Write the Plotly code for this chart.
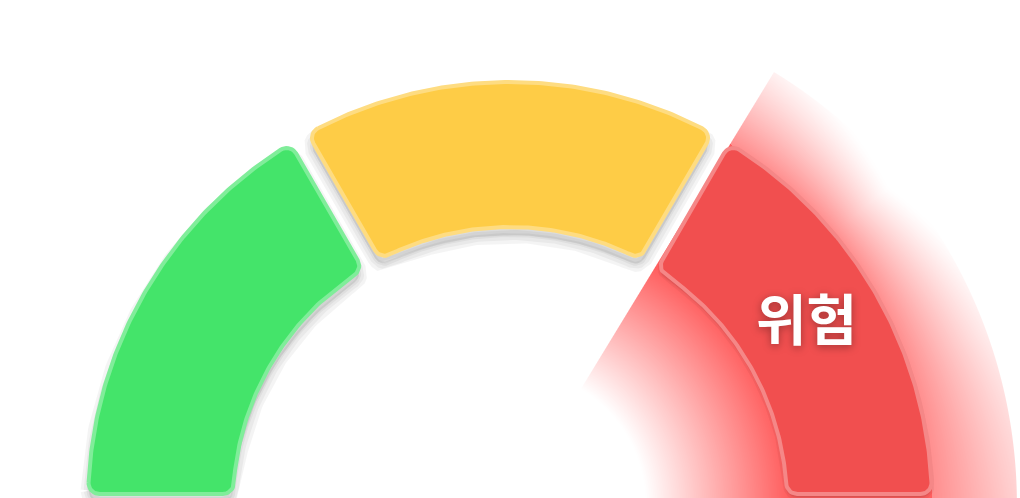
import numpy as np
import plotly.graph_objects as go

# ---------------- data ----------------
segment_labels = ["안전", "주의", "위험"]
segment_values = [1, 1, 1]
segment_colors = ["#44E46A", "#FECC46", "#F14F4F"]
highlight_label = "위험"

# ---------------- geometry (pixels) ----------------
W, H = 1020, 498
CX, CY = 510.0, 0.0          # gauge centre in data coords (y up)
Y_TOP = 504.0                # data y of the top pixel row
R_OUT, R_IN = 422.0, 277.0
GAP = 10.0                   # half gap between segments (px)
RC = 11.0                    # corner radius


def fillet(c, p_from, p_to, rc, n=10):
    a1 = np.arctan2(p_from[1] - c[1], p_from[0] - c[0])
    a2 = np.arctan2(p_to[1] - c[1], p_to[0] - c[0])
    d = (a2 - a1 + np.pi) % (2 * np.pi) - np.pi
    s = np.linspace(0, 1, n)
    return c[0] + rc * np.cos(a1 + d * s), c[1] + rc * np.sin(a1 + d * s)


def corner(u, nv, radius, outer):
    if outer:
        t = np.sqrt((radius - RC) ** 2 - (GAP + RC) ** 2)
    else:
        t = np.sqrt((radius + RC) ** 2 - (GAP + RC) ** 2)
    c = t * u + (GAP + RC) * nv
    t_line = t * u + GAP * nv
    t_arc = c / np.linalg.norm(c) * radius
    return c, t_line, t_arc


def rounded_sector(lo_deg, hi_deg):
    lo, hi = np.radians(lo_deg), np.radians(hi_deg)
    u_hi = np.array([np.cos(hi), np.sin(hi)])
    n_hi = np.array([np.sin(hi), -np.cos(hi)])
    u_lo = np.array([np.cos(lo), np.sin(lo)])
    n_lo = np.array([-np.sin(lo), np.cos(lo)])
    c_oh, l_oh, a_oh = corner(u_hi, n_hi, R_OUT, True)
    c_ol, l_ol, a_ol = corner(u_lo, n_lo, R_OUT, True)
    c_il, l_il, a_il = corner(u_lo, n_lo, R_IN, False)
    c_ih, l_ih, a_ih = corner(u_hi, n_hi, R_IN, False)
    xs, ys = [], []
    ang = np.linspace(np.arctan2(a_oh[1], a_oh[0]), np.arctan2(a_ol[1], a_ol[0]), 120)
    xs += list(R_OUT * np.cos(ang)); ys += list(R_OUT * np.sin(ang))
    fx, fy = fillet(c_ol, a_ol, l_ol, RC); xs += list(fx); ys += list(fy)
    fx, fy = fillet(c_il, l_il, a_il, RC); xs += list(fx); ys += list(fy)
    ang = np.linspace(np.arctan2(a_il[1], a_il[0]), np.arctan2(a_ih[1], a_ih[0]), 90)
    xs += list(R_IN * np.cos(ang)); ys += list(R_IN * np.sin(ang))
    fx, fy = fillet(c_ih, a_ih, l_ih, RC); xs += list(fx); ys += list(fy)
    fx, fy = fillet(c_oh, l_oh, a_oh, RC); xs += list(fx); ys += list(fy)
    xs.append(xs[0]); ys.append(ys[0])
    return np.array(xs) + CX, np.array(ys) + CY


def lighten(hex_col, f):
    h = hex_col.lstrip("#")
    r, g, b = (int(h[i:i + 2], 16) for i in (0, 2, 4))
    r, g, b = (round(v + (255 - v) * f) for v in (r, g, b))
    return f"rgb({r},{g},{b})"


total = float(sum(segment_values))
cum = np.concatenate([[0.0], np.cumsum(segment_values) / total])
angles = 180.0 * (1.0 - cum)     # boundaries in degrees

fig = go.Figure()

# ---------------- glow behind highlighted segment ----------------
hi_idx = segment_labels.index(highlight_label)
g_lo = angles[hi_idx + 1]
g_hi = angles[hi_idx] - np.degrees(np.arcsin(GAP / R_OUT))
R_GLOW = R_OUT * 1.2
R_FADE_IN = 135.0

step = 1.0
gx = np.arange(CX + 70, W + step, step)
gy = np.arange(0, Y_TOP - 62, step)
XX, YY = np.meshgrid(gx, gy)
DX, DY = XX - CX, YY - CY
RR = np.hypot(DX, DY)
TH = np.degrees(np.arctan2(DY, DX))
L = np.interp(TH, [0, 20, 40, g_hi], [170, 112, 72, 105])
inner = 0.9 * np.clip((RR - R_FADE_IN) / (R_IN - R_FADE_IN), 0, 1)
outer = 0.64 * np.clip(1 - (RR - R_OUT) / L, 0, 1) ** 1.3
Z = np.where(RR < R_IN, inner, np.where(RR > R_OUT, outer, 0.9))
edge_dist = RR * np.sin(np.radians(g_hi - TH))
cov = np.clip(edge_dist + 0.5, 0, 1) * np.clip(R_GLOW - RR + 0.5, 0, 1)
Z = Z * cov
Z = np.where((cov > 0) & (TH > g_lo - 5), np.round(Z, 3), np.nan)
zlist = [[None if np.isnan(v) else float(v) for v in row] for row in Z]

fig.add_trace(go.Heatmap(
    x=gx, y=gy, z=zlist, zmin=0, zmax=1, showscale=False, hoverinfo="skip",
    colorscale=[[0, "rgba(255,78,78,0)"], [1, "rgba(255,78,78,1)"]],
))

# ---------------- shadows ----------------
for i in range(len(segment_values)):
    sx, sy = rounded_sector(angles[i + 1], angles[i])
    hl = (i == hi_idx)
    widths = (6, 2) if hl else (16, 10, 4)
    for w in widths:
        fig.add_trace(go.Scatter(
            x=sx, y=sy - (3 if hl else 8), mode="lines", fill="toself",
            fillcolor="rgba(0,0,0,0.03)",
            line=dict(color="rgba(0,0,0,0.045)", width=w),
            hoverinfo="skip", showlegend=False))

# ---------------- segments ----------------
for i, (lab, col) in enumerate(zip(segment_labels, segment_colors)):
    sx, sy = rounded_sector(angles[i + 1], angles[i])
    fig.add_trace(go.Scatter(
        x=sx, y=sy, mode="lines", fill="toself", fillcolor=col,
        line=dict(color=lighten(col, 0.32), width=4),
        name=lab, hoverinfo="name", showlegend=False))

# ---------------- label ----------------
mid_ang = np.radians((angles[hi_idx] + angles[hi_idx + 1]) / 2 + 2)
mid_r = (R_IN + R_OUT) / 2
fig.add_annotation(
    x=CX + mid_r * np.cos(mid_ang), y=CY + mid_r * np.sin(mid_ang),
    text=highlight_label, showarrow=False, yshift=3,
    font=dict(family="Noto Sans CJK KR", size=55, color="#ffffff", weight="bold",
              shadow="0px 2px 8px rgba(0,0,0,0.35)"),
    xanchor="center", yanchor="middle")

fig.update_layout(
    width=W, height=H, margin=dict(l=0, r=0, t=0, b=0),
    paper_bgcolor="#ffffff", plot_bgcolor="#ffffff",
    xaxis=dict(range=[0, W], visible=False, fixedrange=True),
    yaxis=dict(range=[Y_TOP - H, Y_TOP], visible=False, fixedrange=True),
    showlegend=False,
)

fig.write_html("out.html", config={"displayModeBar": False},
               post_script="document.body.style.margin='0';")
